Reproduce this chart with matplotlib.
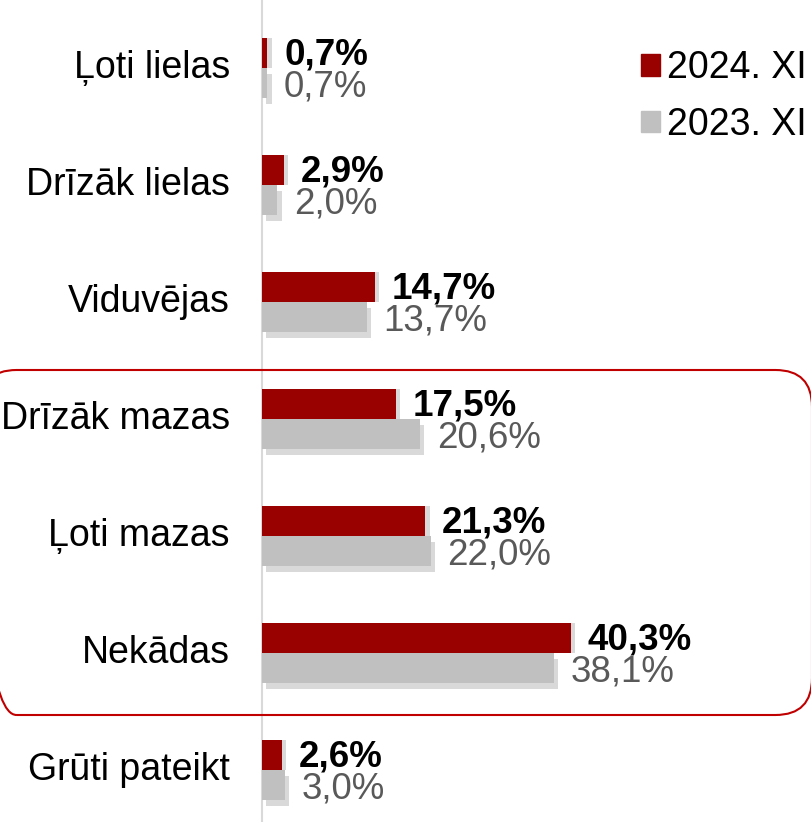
import matplotlib.pyplot as plt
import matplotlib.patheffects as pe
from matplotlib.patches import FancyBboxPatch, Patch

plt.rcParams['font.family'] = ['Liberation Sans', 'DejaVu Sans']

# categories and values (%)
categories = ['Ļoti lielas', 'Drīzāk lielas', 'Viduvējas', 'Drīzāk mazas',
              'Ļoti mazas', 'Nekādas', 'Grūti pateikt']
v2024 = [0.7, 2.9, 14.7, 17.5, 21.3, 40.3, 2.6]
v2023 = [0.7, 2.0, 13.7, 20.6, 22.0, 38.1, 3.0]
series_names = ['2024. XI', '2023. XI']

red = '#990000'
grey = '#C0C0C0'

W, H = 812, 822
fig = plt.figure(figsize=(W / 100, H / 100), dpi=100)
ax = fig.add_axes([0, 0, 1, 1])

# pixel mapping: 0% at x=262px, 7.67px per %, first row at y=68px, 117px per row
px_per_pct = 7.67
ax.set_xlim(-262 / px_per_pct, (W - 262) / px_per_pct)
ax.set_ylim((H - 68) / 117, -68 / 117)
ax.axis('off')

y = list(range(len(categories)))
h = 0.26

b2 = ax.barh([i + h / 2 for i in y], v2023, height=h, color=grey, zorder=2)
b1 = ax.barh([i - h / 2 for i in y], v2024, height=h, color=red, zorder=3)
for bar in b2:
    bar.set_path_effects([pe.SimplePatchShadow(offset=(3, -4), shadow_rgbFace='#000000', alpha=0.15),
                          pe.Normal()])
for bar in b1:
    bar.set_path_effects([pe.SimplePatchShadow(offset=(3, 0), shadow_rgbFace='#000000', alpha=0.15),
                          pe.Normal()])

fmt = lambda v: f'{v:.1f}%'.replace('.', ',')
for i in y:
    ax.annotate(fmt(v2024[i]), (v2024[i], i - h / 2), xytext=(12, -1.5),
                textcoords='offset points', va='center', ha='left',
                fontsize=26.5, fontweight='bold', color='black', zorder=5)
    ax.annotate(fmt(v2023[i]), (v2023[i], i + h / 2), xytext=(12, -3),
                textcoords='offset points', va='center', ha='left',
                fontsize=26.5, color='#595959', zorder=4)

for i, c in enumerate(categories):
    ax.text(-32 / px_per_pct, i, c, ha='right', va='center', fontsize=27)

# zero line
ax.axvline(0, color='#D9D9D9', lw=1.5, zorder=1)

# highlight box
box = FancyBboxPatch((-20 / W, 1 - 715 / H), 832 / W, 345 / H,
                     boxstyle='round,pad=0,rounding_size=0.045',
                     transform=fig.transFigure, fill=False,
                     edgecolor='#C00000', lw=1.5)
fig.patches.append(box)

handles = [Patch(color=red), Patch(color=grey)]
fig.legend(handles, series_names, loc='upper right', bbox_to_anchor=(1.035, 0.98),
           frameon=False, fontsize=27, handlelength=0.5, handleheight=0.5,
           handletextpad=0.2, labelspacing=0.55)

fig.savefig('out.png', dpi=100)
